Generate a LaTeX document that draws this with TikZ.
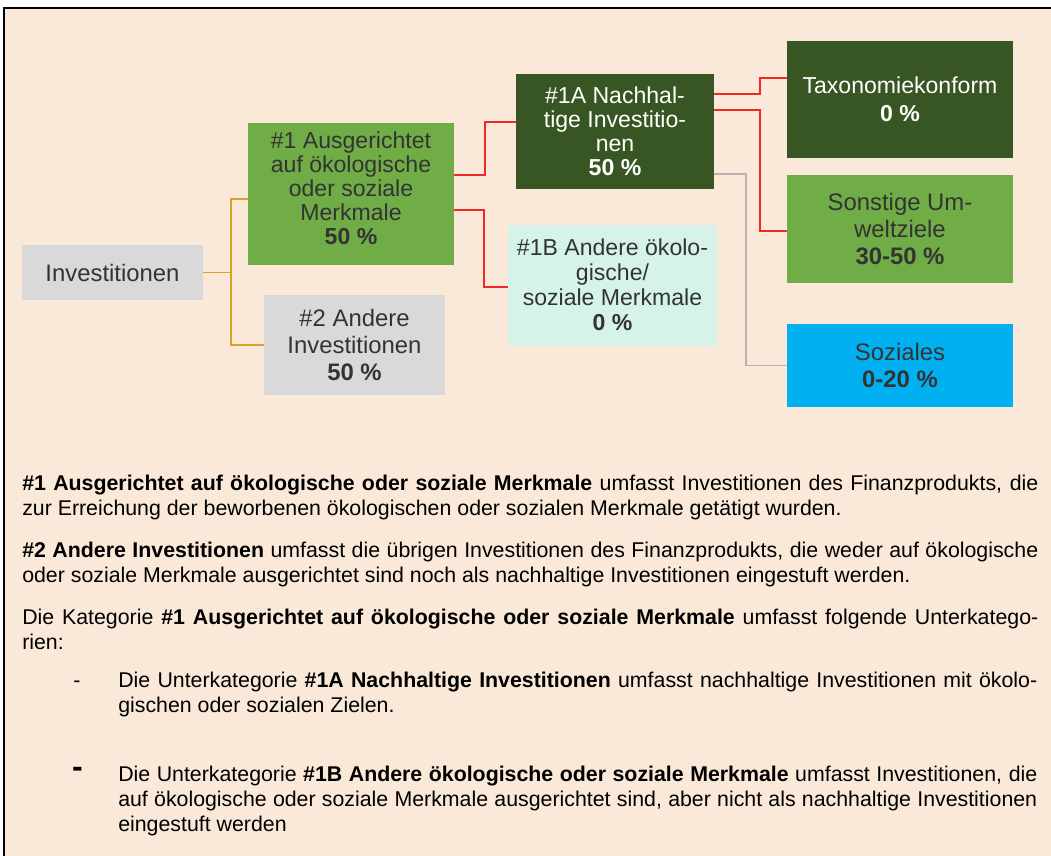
\documentclass[tikz,border=0pt]{standalone}
\usepackage{fontspec}
\setmainfont{Liberation Sans}
\usetikzlibrary{positioning, calc}

\definecolor{bgpeach}{RGB}{250,233,216}
\definecolor{boxgrey}{RGB}{217,217,217}
\definecolor{boxgreen}{RGB}{112,173,71}
\definecolor{boxdark}{RGB}{56,86,35}
\definecolor{boxmint}{RGB}{213,243,232}
\definecolor{boxblue}{RGB}{0,176,240}
\definecolor{boxtext}{RGB}{51,51,51}
\definecolor{goldline}{RGB}{214,163,40}
\definecolor{redline}{RGB}{245,40,40}
\definecolor{greyline}{RGB}{185,178,178}

\newcommand\boxfont{\fontsize{17.3}{18}\selectfont}
\newcommand\bigboxfont{\fontsize{17.9}{20.5}\selectfont}
\newcommand\bodyfont{\fontsize{16}{18.75}\selectfont}

\tikzset{
  box/.style = {rectangle, inner sep=0pt, outer sep=0pt, align=center,
      font=\boxfont, text=boxtext, fill=#1},
  box/.default = boxgrey,
  darkbox/.style = {box=boxdark, text=white},
  link/.style = {line width=1.1pt, draw=#1},
  link/.default = redline,
  para/.style = {inner sep=0pt, anchor=base west, text width=#1,
      align=justify, font=\bodyfont},
  para/.default = 762pt,
}

\begin{document}
\begin{tikzpicture}[x=0.75pt, y=-0.75pt]
  \useasboundingbox (0,0) rectangle (1051,856);
  \draw[line width=1.5pt, fill=bgpeach] (3.7,8.3) rectangle (1080,890);

  \node[box, font=\bigboxfont, minimum width=135.75pt, minimum height=41.25pt] (inv) at (112.5,272.5) {Investitionen};
  \node[box=boxgreen, minimum width=154.5pt, minimum height=106.5pt] (one) at (351,194) {};
  \node[box, fill=none] (onetext) at (351,188)
    {\#1 Ausgerichtet\\auf ökologische\\oder soziale\\Merkmale\\\textbf{50 \%}};
  \node[box, font=\bigboxfont, minimum width=135.75pt, minimum height=75pt] (two) at (354.5,345)
    {\#2 Andere\\Investitionen\\\textbf{50 \%}};
  \node[darkbox, minimum width=148.5pt, minimum height=86.25pt] (onea) at (615,131.5)
    {\#1A Nachhal-\\tige Investitio-\\nen\\\textbf{50 \%}};
  \node[box=boxmint, font=\fontsize{17.3}{18.75}\selectfont, minimum width=156.75pt, minimum height=90.75pt] (oneb) at (612.5,285)
    {\#1B Andere ökolo-\\gische/\\soziale Merkmale\\\textbf{0 \%}};
  \node[darkbox, font=\fontsize{17.3}{21}\selectfont, minimum width=169.5pt, minimum height=87.75pt] (tax) at (900,99.5)
    {Taxonomiekonform\\\textbf{0 \%}};
  \node[box=boxgreen, font=\bigboxfont, minimum width=169.5pt, minimum height=81pt] (oth) at (900,229)
    {Sonstige Um-\\weltziele\\\textbf{30-50 \%}};
  \node[box=boxblue, font=\bigboxfont, minimum width=169.5pt, minimum height=62.25pt] (soc) at (900,365.5)
    {Soziales\\\textbf{0-20 \%}};

  % connectors
  \draw[link=goldline] (inv.east) -- ++(28,0) coordinate (split) |- ($(one.west)+(0,5)$);
  \draw[link=goldline] (split) |- (two.west);
  \draw[link] ($(one.east)+(0,-19)$) -- ++(31,0) |- ($(onea.west)+(0,-9.5)$);
  \draw[link] ($(one.east)+(0,16)$) -- ++(30,0) |- ($(oneb.west)+(0,2)$);
  \draw[link] ($(onea.east)+(0,-37.5)$) -- ++(46,0) |- ($(tax.west)+(0,-21.5)$);
  \draw[link] ($(onea.east)+(0,-21.5)$) -- ++(46,0) |- ($(oth.west)+(0,2)$);
  \draw[link=greyline] ($(onea.east)+(0,42.5)$) -- ++(32,0) |- (soc.west);

  \node[para] (txtone) at (22,490) {\textbf{\#1 Ausgerichtet auf ökologische oder soziale Merkmale} umfasst Investitionen des Finanzprodukts, die\linebreak zur Erreichung der beworbenen ökologischen oder sozialen Merkmale getätigt wurden.};
  \node[para] (txttwo) at (22,557) {\textbf{\#2 Andere Investitionen} umfasst die übrigen Investitionen des Finanzprodukts, die weder auf ökologische\linebreak oder soziale Merkmale ausgerichtet sind noch als nachhaltige Investitionen eingestuft werden.};
  \node[para] (txtcat) at (22,624) {Die Kategorie \textbf{\#1 Ausgerichtet auf ökologische oder soziale Merkmale} umfasst folgende Unterkatego-\linebreak rien:};

  \node[anchor=base, inner sep=0pt, font=\bodyfont] (dasha) at (77,687) {-};
  \node[para=689.25pt] (itema) at (118,687) {Die Unterkategorie \textbf{\#1A Nachhaltige Investitionen} umfasst nachhaltige Investitionen mit ökolo-\linebreak gischen oder sozialen Zielen.};
  \node[anchor=base, inner sep=0pt, font=\fontsize{24}{24}\selectfont\bfseries] (dashb) at (77.5,777) {-};
  \node[para=689.25pt] (itemb) at (118,781) {Die Unterkategorie \textbf{\#1B Andere ökologische oder soziale Merkmale} umfasst Investitionen, die\linebreak auf ökologische oder soziale Merkmale ausgerichtet sind, aber nicht als nachhaltige Investitionen\linebreak eingestuft werden};
\end{tikzpicture}
\end{document}
